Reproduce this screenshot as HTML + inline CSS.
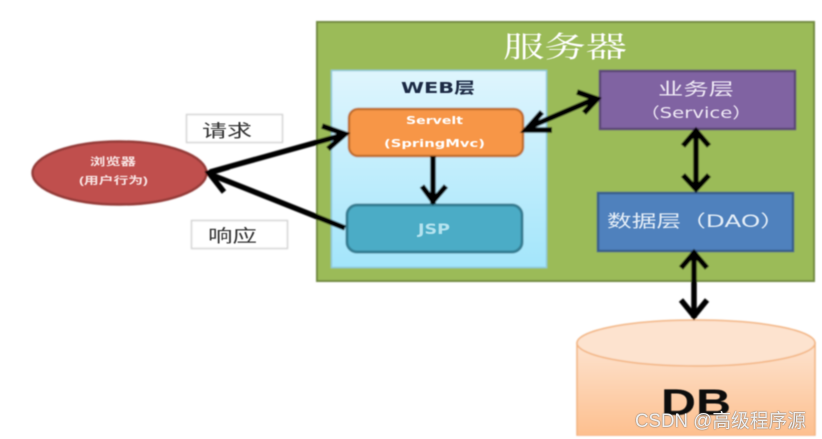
<!DOCTYPE html>
<html><head><meta charset="utf-8">
<style>
html,body{margin:0;padding:0;background:#fff;width:822px;height:439px;overflow:hidden}
svg{display:block}
text{font-family:"Liberation Sans","Noto Sans CJK SC",sans-serif}
.d{font-family:"DejaVu Sans","Noto Sans CJK SC",sans-serif}
</style></head><body>
<svg width="822" height="439" viewBox="0 0 822 439" xmlns="http://www.w3.org/2000/svg">
<defs>
<linearGradient id="web" x1="0" y1="0" x2="0" y2="1"><stop offset="0" stop-color="#dff5fd"/><stop offset="1" stop-color="#a3e5fb"/></linearGradient>
<linearGradient id="db" x1="0" y1="0" x2="0" y2="1"><stop offset="0" stop-color="#fde3cf"/><stop offset="1" stop-color="#fdbf8e"/></linearGradient>
<filter id="b" x="-5%" y="-5%" width="110%" height="110%"><feGaussianBlur stdDeviation="0.8"/></filter>
<filter id="t" x="-5%" y="-20%" width="110%" height="140%"><feGaussianBlur stdDeviation="0.5"/></filter>
<filter id="s" x="-5%" y="-30%" width="110%" height="160%"><feGaussianBlur stdDeviation="0.8"/></filter>
</defs>
<g filter="url(#b)">
<rect x="317" y="22" width="497" height="259" fill="#9bbb59" stroke="#71893f" stroke-width="2"/>
<rect x="331.500" y="70.500" width="215" height="197" fill="url(#web)" stroke="#8fc9dc" stroke-width="1.500"/>
<rect x="349" y="109" width="174" height="47" rx="9" fill="#f79646" stroke="#c0702f" stroke-width="2.500"/>
<rect x="347" y="205" width="175" height="47" rx="10" fill="#4bacc6" stroke="#357f94" stroke-width="3"/>
<rect x="600" y="71" width="195" height="58" fill="#8064a2" stroke="#5c4776" stroke-width="2.500"/>
<rect x="598" y="193" width="195" height="58" fill="#4f81bd" stroke="#385d8a" stroke-width="2.500"/>
<ellipse cx="119.500" cy="173" rx="87" ry="31.500" fill="#c0504d" stroke="#943b39" stroke-width="2.500"/>
<rect x="186.500" y="114.500" width="96" height="28" fill="#fff" stroke="#d4d4d4" stroke-width="1.500"/>
<rect x="191.500" y="220.500" width="96" height="28" fill="#fff" stroke="#d4d4d4" stroke-width="1.500"/>
<path d="M577 343V436H815V343Z" fill="url(#db)" stroke="#f2b27e" stroke-width="1.500"/>
<rect x="570" y="436" width="252" height="3" fill="#fff"/>
<ellipse cx="696" cy="343" rx="119" ry="23" fill="#fde3cf" stroke="#f2b27e" stroke-width="1.500"/>
<g fill="none" stroke="#000" stroke-width="5.500">
<path d="M210 172L343 135"/><path d="M322 126L345 134L328 149"/>
<path d="M212 175L345 228"/><path d="M229 167L209 173L224 192"/>
<path d="M433 156V204"/><path d="M422 186L433 201L446 186"/>
<path d="M527 128L597 98"/><path d="M542 112L526 130L552 130"/><path d="M577 92L597 99L584 113"/>
<path d="M696 132V190"/><path d="M683 146L696 131L709 146"/><path d="M683 175L696 189L709 175"/>
<path d="M694 253V318"/><path d="M681 268L694 253L707 268"/><path d="M681 300L694 316L707 300"/>
</g>
</g>
<g filter="url(#t)">
<text x="503" y="57" font-size="29" fill="#fff" textLength="124" lengthAdjust="spacingAndGlyphs" style="font-family:'Noto Serif CJK SC','Liberation Serif',serif">服务器</text>
<text x="401" y="93" font-size="15.500" font-weight="bold" fill="#1f2a44" textLength="74" lengthAdjust="spacingAndGlyphs" class="d">WEB层</text>
<text x="406" y="124" font-size="11" font-weight="bold" fill="#fff" textLength="57" lengthAdjust="spacingAndGlyphs" class="d">Servelt</text>
<text x="384" y="147" font-size="11" font-weight="bold" fill="#fff" textLength="101" lengthAdjust="spacingAndGlyphs" class="d">(SpringMvc)</text>
<text x="418" y="234" font-size="14" font-weight="bold" fill="#b5e3ef" textLength="32" lengthAdjust="spacingAndGlyphs" class="d">JSP</text>
<text x="658" y="95" font-size="17" fill="#efe9f5" textLength="76" lengthAdjust="spacingAndGlyphs" class="d">业务层</text>
<text x="640" y="118" font-size="15" fill="#efe9f5" textLength="112" lengthAdjust="spacingAndGlyphs" class="d">（Service）</text>
<text x="607" y="227" font-size="17" fill="#e4edf7" textLength="178" lengthAdjust="spacingAndGlyphs" class="d">数据层（DAO）</text>
<text x="90" y="165" font-size="10.500" font-weight="bold" fill="#f8e4e3" textLength="46" lengthAdjust="spacingAndGlyphs">浏览器</text>
<text x="79" y="184" font-size="10" font-weight="bold" fill="#f8e4e3" textLength="69" lengthAdjust="spacingAndGlyphs">(用户行为)</text>
<text x="202" y="137" font-size="17.500" fill="#333" textLength="50" lengthAdjust="spacingAndGlyphs">请求</text>
<text x="208" y="242" font-size="17.500" fill="#333" textLength="49" lengthAdjust="spacingAndGlyphs">响应</text>
<text x="661" y="415" font-size="37" font-weight="bold" fill="#0a0a0a" textLength="70" lengthAdjust="spacingAndGlyphs">DB</text>
</g>
<text x="635" y="427" font-size="19" fill="#555" filter="url(#s)" textLength="171" lengthAdjust="spacingAndGlyphs">CSDN @高级程序源</text>
<text x="635" y="427" font-size="19" fill="#eee" textLength="171" lengthAdjust="spacingAndGlyphs">CSDN @高级程序源</text>
</svg>
</body></html>
